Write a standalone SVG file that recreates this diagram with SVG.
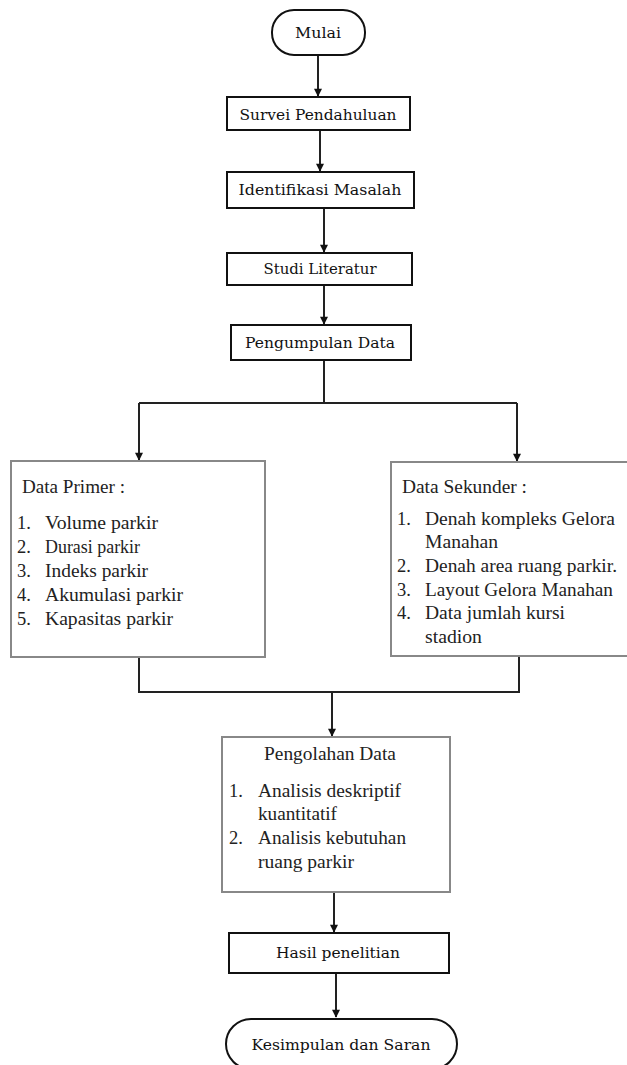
<svg xmlns="http://www.w3.org/2000/svg" width="627" height="1065" viewBox="0 0 627 1065">
<style>
.term{fill:#fff;stroke:#111;stroke-width:2}
.box{fill:#fff;stroke:#111;stroke-width:2}
.lbox{fill:#fff;stroke:#888;stroke-width:2}
.t1{font-family:"DejaVu Serif","Liberation Serif",serif;font-size:15.5px;fill:#111;text-anchor:middle}
.t2{font-family:"Liberation Serif","Times New Roman",serif;font-size:18.5px;fill:#222}
.t2c{font-family:"Liberation Serif","Times New Roman",serif;font-size:18.5px;fill:#222;text-anchor:middle}
.ln{fill:none;stroke:#222;stroke-width:2}
</style>
<defs>
<marker id="ah" viewBox="0 0 10 10" refX="9" refY="5" markerWidth="9" markerHeight="8" markerUnits="userSpaceOnUse" orient="auto"><path d="M0,0 L10,5 L0,10 z" fill="#111"/></marker>
</defs>
<g id="connectors">
<path class="ln" d="M318,55 V96" marker-end="url(#ah)"/>
<path class="ln" d="M320,130 V171" marker-end="url(#ah)"/>
<path class="ln" d="M324,208 V252" marker-end="url(#ah)"/>
<path class="ln" d="M324,285 V324" marker-end="url(#ah)"/>
<path class="ln" d="M324,360 V403"/>
<path class="ln" d="M139,403 H517"/>
<path class="ln" d="M139,403 V460" marker-end="url(#ah)"/>
<path class="ln" d="M517,403 V461" marker-end="url(#ah)"/>
<path class="ln" d="M139,657 V692 H519 V656"/>
<path class="ln" d="M332,692 V736" marker-end="url(#ah)"/>
<path class="ln" d="M334,892 V932" marker-end="url(#ah)"/>
<path class="ln" d="M336,973 V1017" marker-end="url(#ah)"/>
</g>
<g id="mulai">
<rect class="term" x="272" y="10" width="93" height="45" rx="22" ry="22"/>
<text class="t1" x="318" y="38" textLength="46" lengthAdjust="spacingAndGlyphs">Mulai</text>
</g>
<g id="survei">
<rect class="box" x="227" y="97" width="183" height="33"/>
<text class="t1" x="318" y="120" textLength="157" lengthAdjust="spacingAndGlyphs">Survei Pendahuluan</text>
</g>
<g id="identifikasi">
<rect class="box" x="227" y="172" width="187" height="36"/>
<text class="t1" x="320" y="195" textLength="163" lengthAdjust="spacingAndGlyphs">Identifikasi Masalah</text>
</g>
<g id="studi">
<rect class="box" x="227" y="253" width="185" height="32"/>
<text class="t1" x="320" y="274" textLength="113" lengthAdjust="spacingAndGlyphs">Studi Literatur</text>
</g>
<g id="pengumpulan">
<rect class="box" x="231" y="325" width="180" height="35"/>
<text class="t1" x="320" y="348" textLength="150" lengthAdjust="spacingAndGlyphs">Pengumpulan Data</text>
</g>
<g id="data-primer">
<rect class="lbox" x="11" y="461" width="254" height="196"/>
<text class="t2" x="22" y="493" textLength="103" lengthAdjust="spacingAndGlyphs">Data Primer :</text>
<text class="t2" x="17" y="529">1.</text><text class="t2" x="45" y="529" textLength="113" lengthAdjust="spacingAndGlyphs">Volume parkir</text>
<text class="t2" x="17" y="553">2.</text><text class="t2" x="45" y="553" textLength="95" lengthAdjust="spacingAndGlyphs">Durasi parkir</text>
<text class="t2" x="17" y="577">3.</text><text class="t2" x="45" y="577" textLength="103" lengthAdjust="spacingAndGlyphs">Indeks parkir</text>
<text class="t2" x="17" y="601">4.</text><text class="t2" x="45" y="601" textLength="138" lengthAdjust="spacingAndGlyphs">Akumulasi parkir</text>
<text class="t2" x="17" y="625">5.</text><text class="t2" x="45" y="625" textLength="128" lengthAdjust="spacingAndGlyphs">Kapasitas parkir</text>
</g>
<g id="data-sekunder">
<rect class="lbox" x="391" y="462" width="240" height="194"/>
<text class="t2" x="402" y="493" textLength="125" lengthAdjust="spacingAndGlyphs">Data Sekunder :</text>
<text class="t2" x="397" y="525">1.</text><text class="t2" x="425" y="525" textLength="190" lengthAdjust="spacingAndGlyphs">Denah kompleks Gelora</text>
<text class="t2" x="425" y="548" textLength="73" lengthAdjust="spacingAndGlyphs">Manahan</text>
<text class="t2" x="397" y="572">2.</text><text class="t2" x="425" y="572" textLength="192" lengthAdjust="spacingAndGlyphs">Denah area ruang parkir.</text>
<text class="t2" x="397" y="596">3.</text><text class="t2" x="425" y="596" textLength="188" lengthAdjust="spacingAndGlyphs">Layout Gelora Manahan</text>
<text class="t2" x="397" y="619">4.</text><text class="t2" x="425" y="619" textLength="140" lengthAdjust="spacingAndGlyphs">Data jumlah kursi</text>
<text class="t2" x="425" y="643" textLength="57" lengthAdjust="spacingAndGlyphs">stadion</text>
</g>
<g id="pengolahan">
<rect class="lbox" x="222" y="737" width="228" height="155"/>
<text class="t2c" x="330" y="760" textLength="132" lengthAdjust="spacingAndGlyphs">Pengolahan Data</text>
<text class="t2" x="229" y="797">1.</text><text class="t2" x="258" y="797" textLength="143" lengthAdjust="spacingAndGlyphs">Analisis deskriptif</text>
<text class="t2" x="258" y="820" textLength="79" lengthAdjust="spacingAndGlyphs">kuantitatif</text>
<text class="t2" x="229" y="844">2.</text><text class="t2" x="258" y="844" textLength="148" lengthAdjust="spacingAndGlyphs">Analisis kebutuhan</text>
<text class="t2" x="258" y="868" textLength="96" lengthAdjust="spacingAndGlyphs">ruang parkir</text>
</g>
<g id="hasil">
<rect class="box" x="229" y="933" width="220" height="40"/>
<text class="t1" x="338" y="958" textLength="124" lengthAdjust="spacingAndGlyphs">Hasil penelitian</text>
</g>
<g id="kesimpulan">
<rect class="term" x="226" y="1019" width="231" height="50" rx="25" ry="25"/>
<text class="t1" x="341" y="1050" textLength="179" lengthAdjust="spacingAndGlyphs">Kesimpulan dan Saran</text>
</g>
</svg>
